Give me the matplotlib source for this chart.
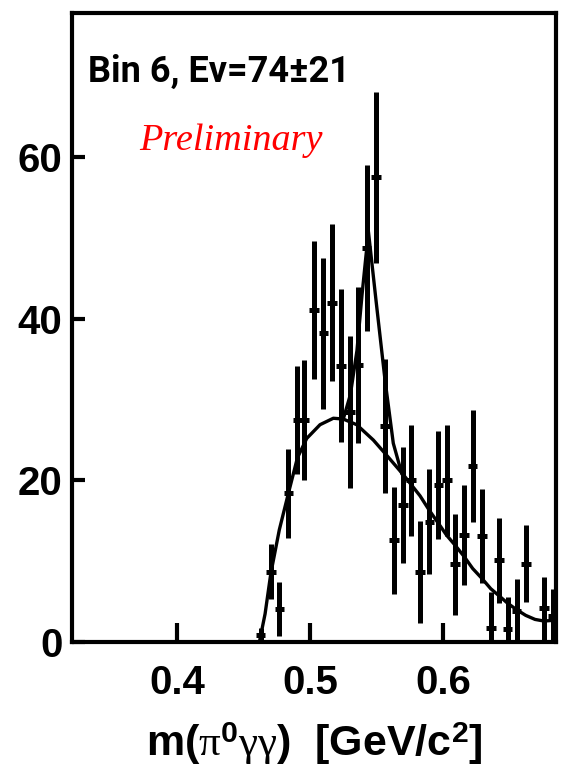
"""Invariant-mass spectrum of pi0 gamma gamma for energy bin 6, with fit."""
import matplotlib
matplotlib.use("Agg")
import matplotlib.pyplot as plt

# Measured spectrum: bin centres [GeV/c^2], counts and symmetric errors
mass = [0.4629, 0.4705, 0.4769, 0.4837, 0.4905, 0.4957, 0.5030, 0.5100,
        0.5163, 0.5233, 0.5301, 0.5363, 0.5426, 0.5496, 0.5564, 0.5632,
        0.5697, 0.5759, 0.5827, 0.5897, 0.5965, 0.6028, 0.6090, 0.6158,
        0.6223, 0.6291, 0.6359, 0.6423, 0.6486, 0.6554, 0.6622, 0.6759,
        0.6825]
counts = [0.9, 8.7, 4.1, 18.4, 27.5, 27.5, 41.1, 38.2,
          42.0, 34.2, 28.5, 34.3, 48.8, 57.5, 26.7, 12.6,
          17.0, 20.0, 8.7, 14.9, 19.4, 20.0, 9.6, 13.2,
          21.8, 13.1, 1.7, 10.1, 1.6, 3.8, 9.7, 4.2,
          3.2]
errors = [0.8, 3.4, 3.3, 5.5, 6.7, 7.4, 8.5, 9.3,
          9.7, 9.5, 9.4, 9.7, 10.3, 10.6, 8.3, 6.6,
          7.2, 6.9, 6.3, 6.5, 6.7, 6.9, 6.3, 6.2,
          6.9, 5.8, 4.5, 5.3, 4.0, 4.0, 4.8, 3.9,
          3.4]
half_bin = 0.0036

# Fitted background shape (sampled)
bg_mass = [0.4619, 0.4662, 0.4705, 0.4769, 0.4837, 0.4905, 0.4975, 0.5075,
           0.5175, 0.5250, 0.5351, 0.5476, 0.5577, 0.5702, 0.5827, 0.5897,
           0.5965, 0.6028, 0.6090, 0.6158, 0.6223, 0.6291, 0.6359, 0.6423,
           0.6486, 0.6554, 0.6622, 0.6692, 0.6759, 0.6842]
bg_counts = [0.0, 3.5, 8.5, 13.9, 18.4, 22.8, 25.2, 26.9,
             27.7, 27.6, 26.9, 25.0, 23.1, 20.7, 18.1, 16.3,
             14.7, 13.2, 12.0, 10.6, 9.1, 7.9, 6.6, 5.7,
             4.8, 4.0, 3.3, 2.8, 2.6, 2.7]

# Signal + background around the eta peak (sampled)
peak_mass = [0.5250, 0.5303, 0.5353, 0.5391, 0.5439, 0.5496, 0.5564, 0.5626, 0.5689]
peak_counts = [27.6, 30.6, 36.1, 43.0, 50.8, 42.3, 32.4, 24.6, 20.9]

title = "Bin 6, Ev=74\u00b121"
xticks = [0.4, 0.5, 0.6]
yticks = [0, 20, 40, 60]


def main():
    plt.rcParams["mathtext.fontset"] = "custom"
    plt.rcParams["mathtext.rm"] = "Liberation Serif"
    plt.rcParams["mathtext.sf"] = "Liberation Sans:bold"
    plt.rcParams["mathtext.default"] = "rm"

    fig = plt.figure(figsize=(5.64, 7.69), dpi=100)
    ax = fig.add_axes([0.1277, 0.1651, 0.8582, 0.8179])

    ax.errorbar(mass, counts, yerr=errors, xerr=half_bin, fmt="none",
                ecolor="black", elinewidth=3.6, capsize=0, zorder=3)
    ax.plot(bg_mass, bg_counts, color="black", lw=2.4, zorder=4)
    ax.plot(peak_mass, peak_counts, color="black", lw=2.4, zorder=4)

    ax.set_xlim(0.321, 0.685)
    ax.set_ylim(0, 77.85)
    ax.set_xticks(xticks)
    ax.set_xticklabels([f"{t:.1f}" for t in xticks])
    ax.set_yticks(yticks)
    ax.set_yticklabels([str(t) for t in yticks])

    tick_font = {"family": "Liberation Sans", "weight": "bold", "size": 29}
    for lab in ax.get_xticklabels() + ax.get_yticklabels():
        lab.set_fontproperties(matplotlib.font_manager.FontProperties(**tick_font))
    ax.tick_params(axis="both", direction="in", width=3, color="black")
    ax.tick_params(axis="x", length=14, pad=16)
    ax.tick_params(axis="y", length=9.5, pad=7)
    for sp in ax.spines.values():
        sp.set_linewidth(3)
        sp.set_zorder(5)

    ax.set_xlabel(r"m($\pi^{\mathsf{0}}\gamma\gamma$)  [GeV/c$^{\mathsf{2}}$]",
                  family="Liberation Sans", weight="bold", size=31, labelpad=13)

    ax.text(0.3037, 0.890, title, transform=ax.transAxes, ha="center",
            va="baseline", family=["Roboto", "DejaVu Sans"], weight="bold", size=26)
    ax.text(0.3285, 0.782, "Preliminary", transform=ax.transAxes, ha="center",
            va="baseline", family="Liberation Serif", style="italic", size=27.5,
            color="#ff0000")

    fig.savefig("out.png", dpi=100)
    plt.close(fig)


if __name__ == "__main__":
    main()
